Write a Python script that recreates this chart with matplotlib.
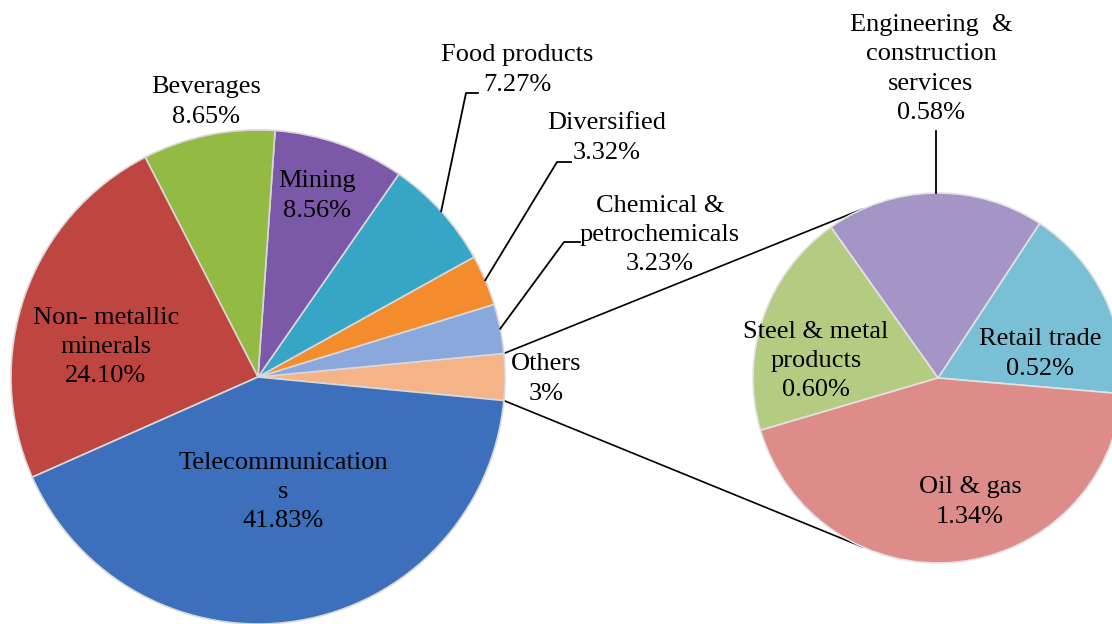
import numpy as np
import matplotlib
matplotlib.use("Agg")
import matplotlib.pyplot as plt

# ---- data ----
main_labels = ["Others", "Chemical &\npetrochemicals", "Diversified", "Food products",
               "Mining", "Beverages", "Non- metallic\nminerals", "Telecommunication\ns"]
main_values = [3.04, 3.23, 3.32, 7.27, 8.56, 8.65, 24.10, 41.83]
main_texts = ["3%", "3.23%", "3.32%", "7.27%", "8.56%", "8.65%", "24.10%", "41.83%"]
main_colors = ["#F5B487", "#8AA8DC", "#F28C2C", "#36A5C6", "#7C58A8", "#93BA43",
               "#BE4540", "#3C6FBC"]

sub_labels = ["Retail trade", "Engineering  &\nconstruction\nservices", "Steel & metal\nproducts", "Oil & gas"]
sub_values = [0.52, 0.58, 0.60, 1.34]
sub_texts = ["0.52%", "0.58%", "0.60%", "1.34%"]
sub_colors = ["#79BFD6", "#A594C6", "#B4CB82", "#DE8C8A"]

# ---- layout (pixel units, y up) ----
W, H = 1112, 624
fig = plt.figure(figsize=(W / 100, H / 100), dpi=100)
ax = fig.add_axes([0, 0, 1, 1])

plt.rcParams["font.family"] = ["Liberation Serif", "DejaVu Serif"]
FS = 19
LS = 1.43

c1 = np.array([258.0, H - 377.0]); r1 = 247.0
c2 = np.array([938.0, H - 378.0]); r2 = 185.0

start1 = -main_values[0] / sum(main_values) * 360 / 2
w1, _ = ax.pie(main_values, colors=main_colors, startangle=start1, counterclock=True,
               center=tuple(c1), radius=r1, frame=True,
               wedgeprops=dict(edgecolor="#d8d8d8", linewidth=1.2))
start2 = -4.9
w2, _ = ax.pie(sub_values, colors=sub_colors, startangle=start2, counterclock=True,
               center=tuple(c2), radius=r2, frame=True,
               wedgeprops=dict(edgecolor="#e2e2e2", linewidth=1.2))
ax.set_xlim(0, W)
ax.set_ylim(0, H)
ax.set_aspect("equal")
ax.axis("off")

def pt(c, r, ang):
    a = np.deg2rad(ang)
    return c + r * np.array([np.cos(a), np.sin(a)])

def mid(w):
    return (w.theta1 + w.theta2) / 2

def put(x, y_px, s):
    ax.text(x, H - y_px, s, ha="center", va="center", fontsize=FS, linespacing=LS,
            color="black")

# main pie labels
pos_main = {
    0: (546, 379),
    1: (660, 235),
    2: (607, 138),
    3: (517, 70),
    4: (317, 196),
    5: (206, 102),
    6: (106, 347),
    7: (283, 492),
}
for i, (x, y) in pos_main.items():
    put(x, y, main_labels[i] + "\n" + main_texts[i])

pos_sub = {0: (1040, 354), 1: (931, 69), 2: (816, 361), 3: (970, 502)}
for i, (x, y) in pos_sub.items():
    put(x, y, sub_labels[i] + "\n" + sub_texts[i])

# leader lines (main pie)
lk = dict(color="black", lw=1.3)
leaders = {3: [(466, 93), (478, 93)], 2: [(557, 162), (571, 162)], 1: [(564, 242), (580, 242)]}
for i, pts in leaders.items():
    s = pt(c1, r1, mid(w1[i]))
    xs = [s[0]] + [p[0] for p in pts]
    ys = [s[1]] + [H - p[1] for p in pts]
    ax.plot(xs, ys, **lk)

# engineering leader
ax.plot([936, 936], [H - 193, H - 131], **lk)

# connector lines between pies
a_top = pt(c1, r1, w1[0].theta2)
a_bot = pt(c1, r1, w1[0].theta1)
b_top = pt(c2, r2, 114)
b_bot = pt(c2, r2, 246)
ax.plot([a_top[0], b_top[0]], [a_top[1], b_top[1]], color="black", lw=1.2, zorder=0.5)
ax.plot([a_bot[0], b_bot[0]], [a_bot[1], b_bot[1]], color="black", lw=1.2, zorder=0.5)

fig.savefig("out.png", dpi=100)
